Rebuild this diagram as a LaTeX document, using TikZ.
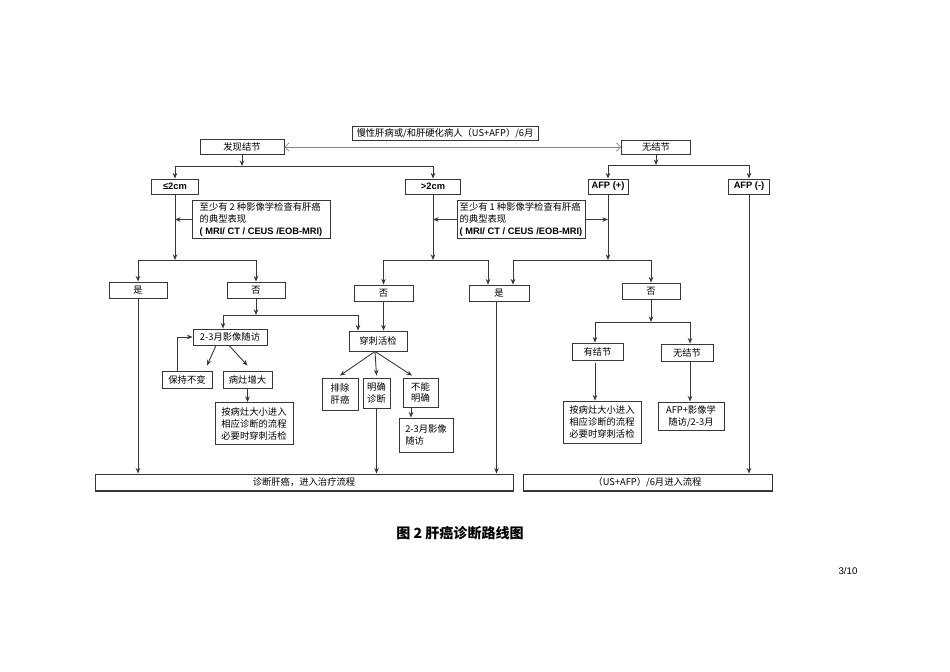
\documentclass[tikz,border=0pt]{standalone}
\usepackage{fontspec}
\newfontfamily\cjk{Noto Sans CJK SC}
\newfontfamily\arial{Liberation Sans}
\usetikzlibrary{arrows.meta}
\definecolor{flowgray}{RGB}{55,55,55}
\definecolor{flowlight}{RGB}{135,135,135}

\begin{document}
\begin{tikzpicture}[x=0.02cm,y=-0.02cm,font=\cjk\fontsize{5.3}{6.8}\selectfont,
    >={Stealth[length=3.2pt,width=2.6pt]},
    stepbox/.style={draw=flowgray,line width=0.5pt,inner sep=1pt,align=center},
    boxsize/.style 2 args={minimum width=#1*0.02cm,minimum height=#2*0.02cm},
    latin/.style={font=\arial\bfseries\fontsize{5.3}{6.8}\selectfont},
    link/.style={->,flowgray,line width=0.5pt},
    lightlink/.style={{Straight Barb[length=2.4pt]}-{Straight Barb[length=2.4pt]},
      flowlight,line width=0.4pt}]
  \useasboundingbox (0,0) rectangle (950,672);

  \node[stepbox,boxsize={186}{14}] (patient) at (445,133)
    {慢性肝病或/和肝硬化病人（US+AFP）/6月};
  \node[stepbox,boxsize={84}{15}] (found) at (242,147) {发现结节};
  \node[stepbox,boxsize={69}{14}] (none) at (656,147) {无结节};
  \node[stepbox,latin,boxsize={47}{15}] (small) at (175,186.5) {≤2cm};
  \node[stepbox,latin,boxsize={55}{15}] (large) at (433,186.5) {>2cm};
  \node[stepbox,latin,boxsize={40}{15}] (afppos) at (608,186.5) {AFP (+)};
  \node[stepbox,latin,boxsize={41}{15}] (afpneg) at (749,186.5) {AFP (-)};
  \node[stepbox,boxsize={138}{35},align=left] (twoimg) at (261,219.5)
    {至少有 2 种影像学检查有肝癌\\的典型表现\\
     {\arial\bfseries ( MRI/ CT / CEUS /EOB-MRI)}};
  \node[stepbox,boxsize={128}{35},align=left] (oneimg) at (521,219.5)
    {至少有 1 种影像学检查有肝癌\\的典型表现\\
     {\arial\bfseries ( MRI/ CT / CEUS /EOB-MRI)}};

  \node[stepbox,boxsize={58}{16}] (yesA) at (138,290) {是};
  \node[stepbox,boxsize={58}{16}] (noA) at (256,290) {否};
  \node[stepbox,boxsize={59}{16}] (noB) at (383.5,293) {否};
  \node[stepbox,boxsize={60}{16}] (yesB) at (499,293) {是};
  \node[stepbox,boxsize={58}{16}] (noC) at (651,291) {否};

  \node[stepbox,boxsize={74}{16}] (follow) at (230,337) {2-3月影像随访};
  \node[stepbox,boxsize={58}{20}] (biopsy) at (378,341) {穿刺活检};
  \node[stepbox,boxsize={50}{17}] (keep) at (187,379.5) {保持不变};
  \node[stepbox,boxsize={49}{17}] (grow) at (247.5,379.5) {病灶增大};
  \node[stepbox,boxsize={78}{42}] (sizeA) at (254,423.5)
    {按病灶大小进入\\相应诊断的流程\\必要时穿刺活检};
  \node[stepbox,boxsize={36}{32}] (exclude) at (340,394) {排除\\肝癌};
  \node[stepbox,boxsize={27}{30}] (clear) at (376.5,393) {明确\\诊断};
  \node[stepbox,boxsize={35}{29}] (unclear) at (420.5,392.5) {不能\\明确};
  \node[stepbox,boxsize={54}{34},align=left] (followB) at (426,435)
    {2-3月影像\\随访};

  \node[stepbox,boxsize={51}{17}] (hasnod) at (597.5,351.5) {有结节};
  \node[stepbox,boxsize={52}{17}] (nonodB) at (687,352.5) {无结节};
  \node[stepbox,boxsize={78}{42}] (sizeB) at (602,422)
    {按病灶大小进入\\相应诊断的流程\\必要时穿刺活检};
  \node[stepbox,boxsize={66}{28}] (afpimg) at (691,416)
    {AFP+影像学\\随访/2-3月};

  \node[stepbox,boxsize={418}{17}] (diag) at (304,482.5) {诊断肝癌，进入治疗流程};
  \node[stepbox,boxsize={249}{17}] (recall) at (647.5,482.5) {（US+AFP）/6月进入流程};
  \draw[flowgray,line width=1.1pt] (diag.south west) -- (diag.south east);
  \draw[flowgray,line width=1.1pt] (recall.south west) -- (recall.south east);

  \node[font=\cjk\bfseries\fontsize{8}{9.6}\selectfont] (caption) at (460,533)
    {图 2 肝癌诊断路线图};
  \node[font=\arial\fontsize{5.5}{6.6}\selectfont] (page) at (848,571) {3/10};

  \draw[lightlink] (found.east) -- (none.west);

  \coordinate (f1) at (found.south |- 0,166);
  \draw[link] (found) -- (f1);
  \draw[link] (f1) -| (small);
  \draw[link] (f1) -| (large);
  \coordinate (f2) at (none.south |- 0,165);
  \draw[link] (none) -- (f2);
  \draw[link] (f2) -| (afppos);
  \draw[link] (f2) -| (afpneg);

  \draw[link] (twoimg.west) -- (twoimg.west -| small.south);
  \draw[link] (oneimg.west) -- (oneimg.west -| large.south);
  \draw[link] (oneimg.east) -- (oneimg.east -| afppos.south);

  \coordinate (f3) at (small.south |- 0,260);
  \draw[link] (small) -- (f3);
  \draw[link] (f3) -| (yesA);
  \draw[link] (f3) -| (noA);
  \coordinate (f4) at (large.south |- 0,260);
  \draw[link] (large) -- (f4);
  \draw[link] (f4) -| (noB);
  \draw[link] (f4) -| ([xshift=-0.22cm]yesB.north);
  \coordinate (f5) at (afppos.south |- 0,260);
  \draw[link] (afppos) -- (f5);
  \draw[link] (f5) -| ([xshift=0.28cm]yesB.north);
  \draw[link] (f5) -| (noC);

  \coordinate (f6) at (noA.south |- 0,315);
  \draw[link] (noA) -- (f6);
  \draw[link] (f6) -| ([xshift=-0.14cm]follow.north);
  \draw[link] (f6) -| ([xshift=-0.4cm]biopsy.north);
  \draw[link] (noB.south) -- (noB.south |- biopsy.north);

  \draw[link] ([xshift=-0.28cm]follow.south) -- ([xshift=0.4cm,yshift=0.1cm]keep.north);
  \draw[link] ([xshift=-0.02cm]follow.south) -- ([yshift=0.1cm]grow.north);
  \draw[link] ([xshift=-0.2cm]keep.north) |- (follow.west);
  \draw[link] (grow.south) -- (grow.south |- sizeA.north);

  \draw[link] ([xshift=-0.06cm]biopsy.south) -- ([yshift=0.04cm]exclude.north);
  \draw[link] ([xshift=-0.06cm]biopsy.south) -- ([yshift=0.04cm]clear.north);
  \draw[link] ([xshift=-0.06cm]biopsy.south) -- ([xshift=-0.17cm,yshift=0.04cm]unclear.north);
  \draw[link] ([xshift=-0.19cm]unclear.south) -- ([xshift=-0.19cm]unclear.south |- followB.north);

  \coordinate (f7) at (noC.south |- 0,322);
  \draw[link] (noC) -- (f7);
  \draw[link] (f7) -| ([xshift=-0.05cm]hasnod.north);
  \draw[link] (f7) -| ([xshift=0.06cm]nonodB.north);
  \draw[link] ([xshift=-0.05cm,yshift=-0.06cm]hasnod.south) -- ([xshift=-0.05cm]hasnod.south |- sizeB.north);
  \draw[link] ([xshift=0.06cm]nonodB.south) -- ([xshift=0.06cm]nonodB.south |- afpimg.north);

  \draw[link] (yesA) -- (yesA |- diag.north);
  \draw[link] (clear) -- (clear |- diag.north);
  \draw[link] ([xshift=-0.05cm]yesB.south) -- ([xshift=-0.05cm]yesB.south |- diag.north);
  \draw[link] (afpneg) -- (afpneg |- recall.north);
\end{tikzpicture}
\end{document}
